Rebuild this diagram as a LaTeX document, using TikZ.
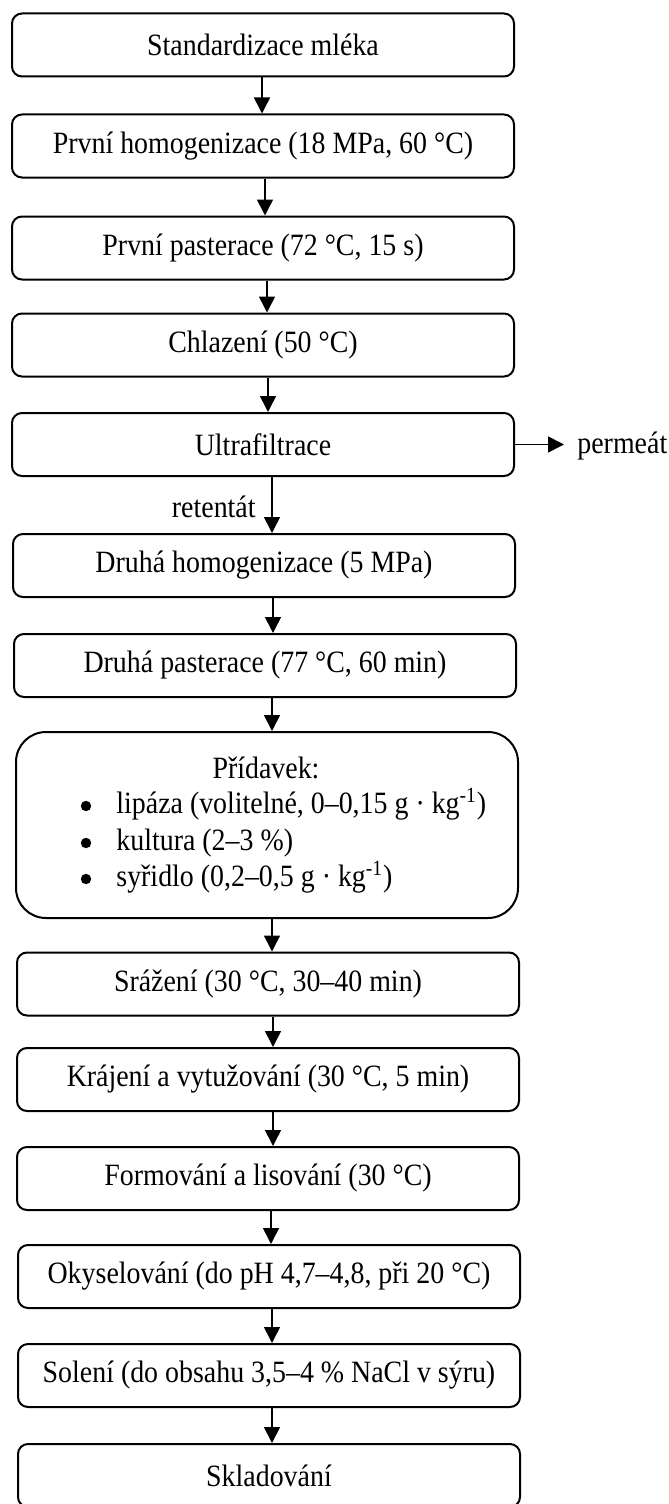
\documentclass[tikz,border=0pt]{standalone}
\usepackage{fontspec}
\setmainfont{Liberation Serif}[FakeStretch=0.9]
\usetikzlibrary{arrows.meta}
\begin{document}
\begin{tikzpicture}[x=0.5pt,y=-0.5pt,
  every node/.style={font=\fontsize{15.5pt}{18pt}\selectfont},
  stepbox/.style={draw, line width=1pt, rounded corners=5pt, minimum width=251pt, minimum height=31.5pt, inner sep=0pt, align=center},
  bigbox/.style={draw, line width=1pt, rounded corners=15pt, minimum width=251pt, minimum height=93pt, inner sep=0pt},
  arr/.style={line width=0.8pt, -{Triangle[length=8pt,width=8pt]}},
  txt/.style={inner sep=0pt},
  bul/.style={circle, fill, inner sep=0pt, minimum size=5.2pt}
]
\useasboundingbox (0,0) rectangle (669,1504);
% upper boxes
\node[stepbox] (b1) at (263,45) {Standardizace mléka};
\node[stepbox] (b2) at (263,146) {První homogenizace (18 MPa, 60 °C)};
\node[stepbox] (b3) at (263,248) {První pasterace (72 °C, 15 s)};
\node[stepbox] (b4) at (263,345) {Chlazení (50 °C)};
\node[stepbox] (b5) at (263,444.5) {Ultrafiltrace};
\node[stepbox] (b6) at (264,565.5) {Druhá homogenizace (5 MPa)};
\node[stepbox] (b7) at (265,665.5) {Druhá pasterace (77 °C, 60 min)};
% big box
\node[bigbox] (b8) at (267,825) {};
\node[txt, anchor=base] (p0) at (266,778) {Přídavek:};
\node[bul] (bu1) at (86,806) {};
\node[txt, anchor=base west] (l1) at (116,813) {lipáza (volitelné, 0–0,15 g · kg\textsuperscript{-1})};
\node[bul] (bu2) at (86,843) {};
\node[txt, anchor=base west] (l2) at (116,850) {kultura (2–3 \%)};
\node[bul] (bu3) at (86,879) {};
\node[txt, anchor=base west] (l3) at (116,886) {syřidlo (0,2–0,5 g · kg\textsuperscript{-1})};
% lower boxes
\node[stepbox] (b9) at (268,984) {Srážení (30 °C, 30–40 min)};
\node[stepbox] (b10) at (268,1079.5) {Krájení a vytužování (30 °C, 5 min)};
\node[stepbox] (b11) at (268,1178.5) {Formování a lisování (30 °C)};
\node[stepbox] (b12) at (269,1276.5) {Okyselování (do pH 4,7–4,8, při 20 °C)};
\node[stepbox] (b13) at (269,1375.5) {Solení (do obsahu 3,5–4 \% NaCl v sýru)};
\node[stepbox] (b14) at (269,1475.5) {Skladování};
% side labels
\node[txt, anchor=base west] (perm) at (577,453) {permeát};
\coordinate (pend) at (564,444.5);
\node[txt, anchor=base east] (ret) at (256,517) {retentát};
% connectors
\draw[arr] ([xshift=-0.5pt]b1.south) coordinate (t1) -- (t1 |- b2.north);
\draw[arr] ([xshift=1pt]b2.south) coordinate (t2) -- (t2 |- b3.north);
\draw[arr] ([xshift=2pt]b3.south) coordinate (t3) -- (t3 |- b4.north);
\draw[arr] ([xshift=2.5pt]b4.south) coordinate (t4) -- (t4 |- b5.north);
\draw[arr] ([xshift=4.5pt]b5.south) coordinate (t5) -- (t5 |- b6.north);
\draw[arr] ([xshift=4.5pt]b6.south) coordinate (t6) -- (t6 |- b7.north);
\draw[arr] ([xshift=3.5pt]b7.south) coordinate (t7) -- (t7 |- b8.north);
\draw[arr] ([xshift=2.5pt]b8.south) coordinate (t8) -- (t8 |- b9.north);
\draw[arr] ([xshift=2.5pt]b9.south) coordinate (t9) -- (t9 |- b10.north);
\draw[arr] ([xshift=2.5pt]b10.south) coordinate (t10) -- (t10 |- b11.north);
\draw[arr] ([xshift=1.5pt]b11.south) coordinate (t11) -- (t11 |- b12.north);
\draw[arr] ([xshift=1.5pt]b12.south) coordinate (t12) -- (t12 |- b13.north);
\draw[arr] ([xshift=1.5pt]b13.south) coordinate (t13) -- (t13 |- b14.north);
\draw[arr] (b5.east) -- (pend);
\end{tikzpicture}
\end{document}
